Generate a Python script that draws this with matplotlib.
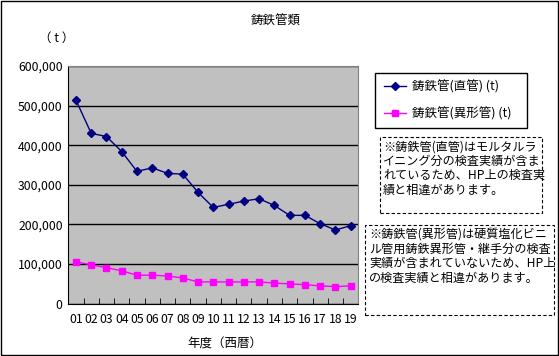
import matplotlib
matplotlib.use("Agg")
import matplotlib.pyplot as plt
from matplotlib.patches import Rectangle

plt.rcParams['font.family'] = ['Noto Sans CJK JP', 'DejaVu Sans']

# data
years = ["01", "02", "03", "04", "05", "06", "07", "08", "09", "10",
         "11", "12", "13", "14", "15", "16", "17", "18", "19"]
straight_pipe = [514000, 430000, 422000, 384000, 334000, 343000, 329000, 327000, 281000, 243000,
                 251000, 259000, 265000, 248000, 223000, 223000, 202000, 186000, 197000]
fitting_pipe = [106000, 98000, 91000, 83000, 72000, 72000, 70000, 65000, 55000, 55000,
                55000, 55000, 55000, 52000, 50000, 48000, 45000, 43000, 45000]
series_names = ["鋳鉄管(直管) (t)", "鋳鉄管(異形管) (t)"]
note1 = ["※鋳鉄管(直管)はモルタルラ",
         "イニング分の検査実績が含ま",
         "れているため、HP上の検査実",
         "績と相違があります。"]
note2 = ["※鋳鉄管(異形管)は硬質塩化ビニ",
         "ル管用鋳鉄異形管・継手分の検査",
         "実績が含まれていないため、HP上",
         "の検査実績と相違があります。"]

W, H = 559, 356


def fx(px):
    return px / W


def fy(py):
    return 1 - py / H


def box(x0, y0, x1, y1, **kw):
    fig.patches.append(Rectangle((fx(x0), fy(y1)), (x1 - x0) / W, (y1 - y0) / H,
                                 transform=fig.transFigure, fill=False, edgecolor='black', **kw))


fig = plt.figure(figsize=(W / 100, H / 100), dpi=100)
box(1, 1, 558, 355, linewidth=1)

ax = fig.add_axes([fx(68.3), fy(303.7), (358.3 - 68.3) / W, (303.7 - 66) / H])
ax.set_facecolor('#C0C0C0')
x = list(range(len(years)))
l1, = ax.plot(x, straight_pipe, color='#000080', marker='D', markersize=4, linewidth=1)
l2, = ax.plot(x, fitting_pipe, color='#FF00FF', marker='s', markersize=4.5, linewidth=1)

ax.set_xlim(-0.5, len(years) - 0.5)
ax.set_ylim(0, 600000)
ax.set_yticks(range(0, 600001, 100000))
ax.set_yticklabels(["0", "100,000", "200,000", "300,000", "400,000", "500,000", "600,000"], fontsize=8.8)
ax.yaxis.grid(True, color='black', linewidth=1)
ax.set_axisbelow(True)
ax.tick_params(axis='y', length=0, pad=4)
ax.set_xticks(x)
ax.set_xticklabels(years, fontsize=8.8)
ax.tick_params(axis='x', which='major', length=0, pad=7)
ax.set_xticks([i - 0.5 for i in range(len(years) + 1)], minor=True)
ax.tick_params(axis='x', which='minor', direction='in', length=4, color='black')
ax.spines['left'].set_color('black')
ax.spines['bottom'].set_color('black')
ax.spines['top'].set_color('#808080')
ax.spines['right'].set_color('#808080')

fig.text(fx(276), fy(21), "鋳鉄管類", ha='center', va='center', fontsize=9)
fig.text(fx(57), fy(38), "（ t ）", ha='center', va='center', fontsize=9)
fig.text(fx(225), fy(344), "年度（西暦）", ha='center', va='center', fontsize=9)

# legend without its own frame, box drawn separately
fig.legend([l1, l2], series_names, loc='upper left',
           bbox_to_anchor=(fx(380), fy(76)), bbox_transform=fig.transFigure,
           fontsize=9, frameon=False, borderaxespad=0, borderpad=0.3,
           labelspacing=1.15, handlelength=1.8, handletextpad=0.45)
box(375, 73, 527, 128, linewidth=1)

# note boxes
box(380, 137, 542, 213, linestyle=(0, (3, 2)), linewidth=0.8)
for i, line in enumerate(note1):
    fig.text(fx(383), fy(147 + i * 14.3), line, ha='left', va='center', fontsize=8.7)

box(365, 225, 554, 315, linestyle=(0, (3, 2)), linewidth=0.8)
for i, line in enumerate(note2):
    fig.text(fx(369), fy(235 + i * 14.3), line, ha='left', va='center', fontsize=8.7)

fig.savefig("out.png", dpi=100)
